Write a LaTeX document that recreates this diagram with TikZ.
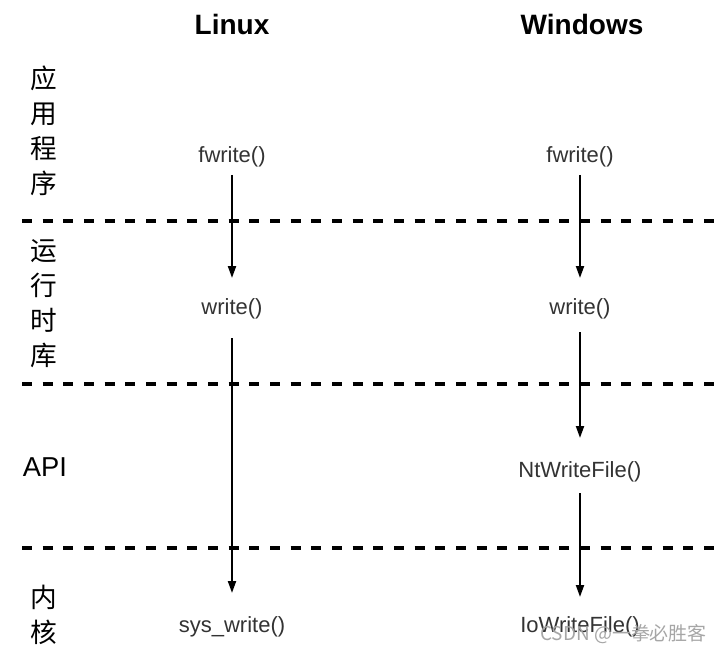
\documentclass[tikz,border=0pt]{standalone}
\usepackage{fontspec}
\setmainfont{Liberation Sans}
\newfontfamily\cjk{Noto Sans CJK SC}
\usetikzlibrary{calc,arrows.meta}
\begin{document}
\begin{tikzpicture}[x=0.75pt,y=-0.75pt,
  fn/.style={inner sep=0pt,text=black!80,font=\fontsize{16.5}{18}\selectfont,text height=0.75em,text depth=0.21em},
  head/.style={inner sep=0pt,font=\fontsize{21}{24}\selectfont\bfseries},
  side/.style={inner sep=0pt,align=center,font=\cjk\fontsize{20}{26.3}\selectfont},
  arr/.style={line width=1.5pt,-{Triangle[length=9pt,width=6pt]}},
  sep/.style={line width=2.6pt,dash pattern=on 7.5pt off 8pt}]
\useasboundingbox[fill=white] (0,0) rectangle (724,652);
% headers
\node[head] (hl) at (232,24) {Linux};
\node[head] (hw) at (582,24) {Windows};
% side labels
\node[side] (s1) at (44,131) {应\\用\\程\\序};
\node[side] (s2) at (44,304) {运\\行\\时\\库};
\node[inner sep=0pt,font=\fontsize{20.5}{24}\selectfont] (s3) at (45,467) {API};
\node[side] (s4) at (44,615) {内\\核};
% separators
\draw[sep] (22,221) -- (724,221);
\draw[sep] (22,384) -- (724,384);
\draw[sep] (22,548) -- (724,548);
% Linux column
\node[fn] (lf) at (232,159) {fwrite()};
\node[fn] (lw) at (232,311) {write()};
\node[fn] (ls) at (232,629) {sys\_write()};
% Windows column
\node[fn] (wf) at (580,159) {fwrite()};
\node[fn] (ww) at (580,311) {write()};
\node[fn] (wn) at (580,474) {NtWriteFile()};
\node[fn] (wi) at (580,629) {IoWriteFile()};
% arrows
\draw[arr] ($(lf)+(0,16)$) -- ($(lw)+(0,-33)$);
\draw[arr] ($(lw)+(0,27)$) -- ($(ls)+(0,-36)$);
\draw[arr] ($(wf)+(0,16)$) -- ($(ww)+(0,-33)$);
\draw[arr] ($(ww)+(0,21)$) -- ($(wn)+(0,-36)$);
\draw[arr] ($(wn)+(0,19)$) -- ($(wi)+(0,-32)$);
% watermark
\node[inner sep=0pt,text=black!35,font=\cjk\fontsize{14.2}{15}\selectfont,anchor=east] (wm) at (707,634) {CSDN @一拳必胜客};
\end{tikzpicture}
\end{document}
